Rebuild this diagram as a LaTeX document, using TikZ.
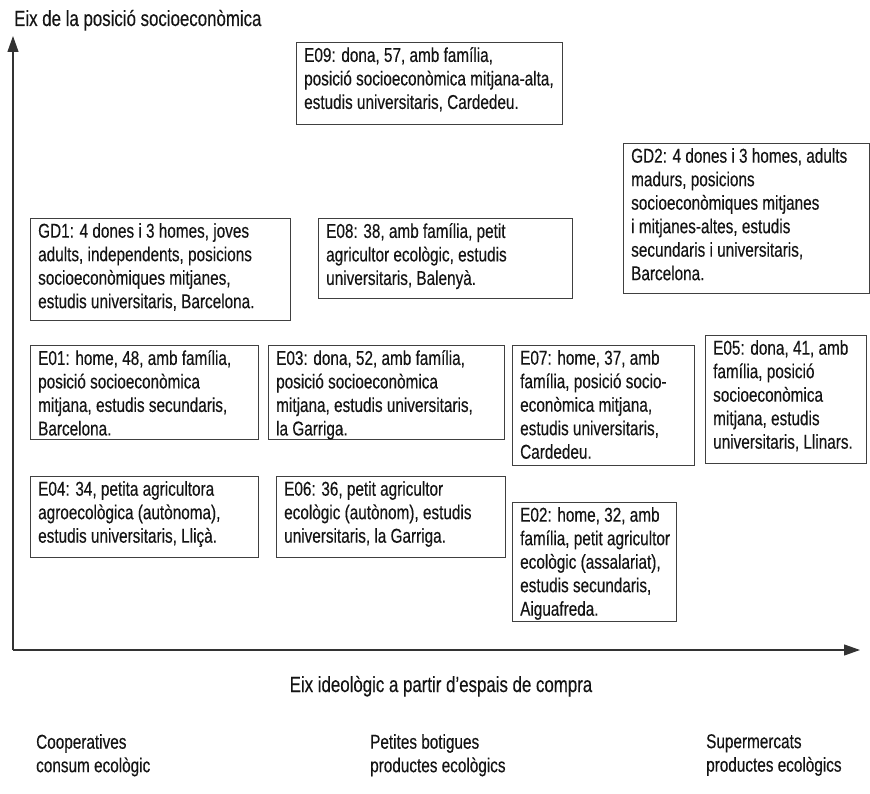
\documentclass[tikz,border=0pt]{standalone}
\usepackage{fontspec}
\setmainfont{Liberation Sans}[FakeStretch=0.766,FakeBold=0.3]
\usetikzlibrary{arrows.meta}
\begin{document}
\begin{tikzpicture}[x=1pt,y=-1pt,
  boxf/.style={draw=black!75, line width=0.9pt, anchor=north west, inner sep=0pt},
  txt/.style={anchor=north west, align=left, inner sep=0pt, font=\fontsize{20}{23.5}\selectfont, text=black!92},
  axisline/.style={draw=black!80, line width=1.2pt, -{Triangle[length=16pt,width=11pt]}},
  lbl/.style={inner sep=0pt, font=\fontsize{22}{24}\selectfont, text=black!92}]
\useasboundingbox (0,0) rectangle (870,794);
\newcommand\ibox[6]{%
  \node[boxf, minimum width={#4pt-#2pt}, minimum height={#5pt-#3pt}] (#1b) at (#2,#3) {};
  \node[txt] (#1) at ([shift={(8,5)}]#1b.north west) {#6};}
% axes
\coordinate (O) at (13,650);
\coordinate (ytip) at (13,36);
\coordinate (xtip) at (860,650);
\draw[axisline] (O) -- (ytip);
\draw[axisline] (O) -- (xtip);
\node[lbl, anchor=base west] (ylab) at (14,26) {Eix de la posició socioeconòmica};
\node[lbl, anchor=base] (xlab) at (441,692) {Eix ideològic a partir d’espais de compra};
% boxes
\ibox{e09}{296}{42}{562}{124}{E09: dona, 57, amb família,\\posició socioeconòmica mitjana-alta,\\estudis universitaris, Cardedeu.}
\ibox{gd2}{623}{143}{869}{293}{GD2: 4 dones i 3 homes, adults\\madurs, posicions\\socioeconòmiques mitjanes\\i mitjanes-altes, estudis\\secundaris i universitaris,\\Barcelona.}
\ibox{gd1}{30}{218}{290}{320}{GD1: 4 dones i 3 homes, joves\\adults, independents, posicions\\socioeconòmiques mitjanes,\\estudis universitaris, Barcelona.}
\ibox{e08}{318}{218}{572}{298}{E08: 38, amb família, petit\\agricultor ecològic, estudis\\universitaris, Balenyà.}
\ibox{e01}{30}{345}{258}{439}{E01: home, 48, amb família,\\posició socioeconòmica\\mitjana, estudis secundaris,\\Barcelona.}
\ibox{e03}{268}{345}{504}{439}{E03: dona, 52, amb família,\\posició socioeconòmica\\mitjana, estudis universitaris,\\la Garriga.}
\ibox{e07}{512}{345}{694}{465}{E07: home, 37, amb\\família, posició socio-\\econòmica mitjana,\\estudis universitaris,\\Cardedeu.}
\ibox{e05}{705}{335}{866}{463}{E05: dona, 41, amb\\família, posició\\socioeconòmica\\mitjana, estudis\\universitaris, Llinars.}
\ibox{e04}{30}{476}{258}{557}{E04: 34, petita agricultora\\agroecològica (autònoma),\\estudis universitaris, Lliçà.}
\ibox{e06}{276}{476}{505}{557}{E06: 36, petit agricultor\\ecològic (autònom), estudis\\universitaris, la Garriga.}
\ibox{e02}{512}{502}{676}{621}{E02: home, 32, amb\\família, petit agricultor\\ecològic (assalariat),\\estudis secundaris,\\Aiguafreda.}
% bottom labels
\node[txt] (coop) at (36,734) {Cooperatives\\consum ecològic};
\node[txt] (botig) at (370,734) {Petites botigues\\productes ecològics};
\node[txt] (super) at (706,734) {Supermercats\\productes ecològics};
\end{tikzpicture}
\end{document}
